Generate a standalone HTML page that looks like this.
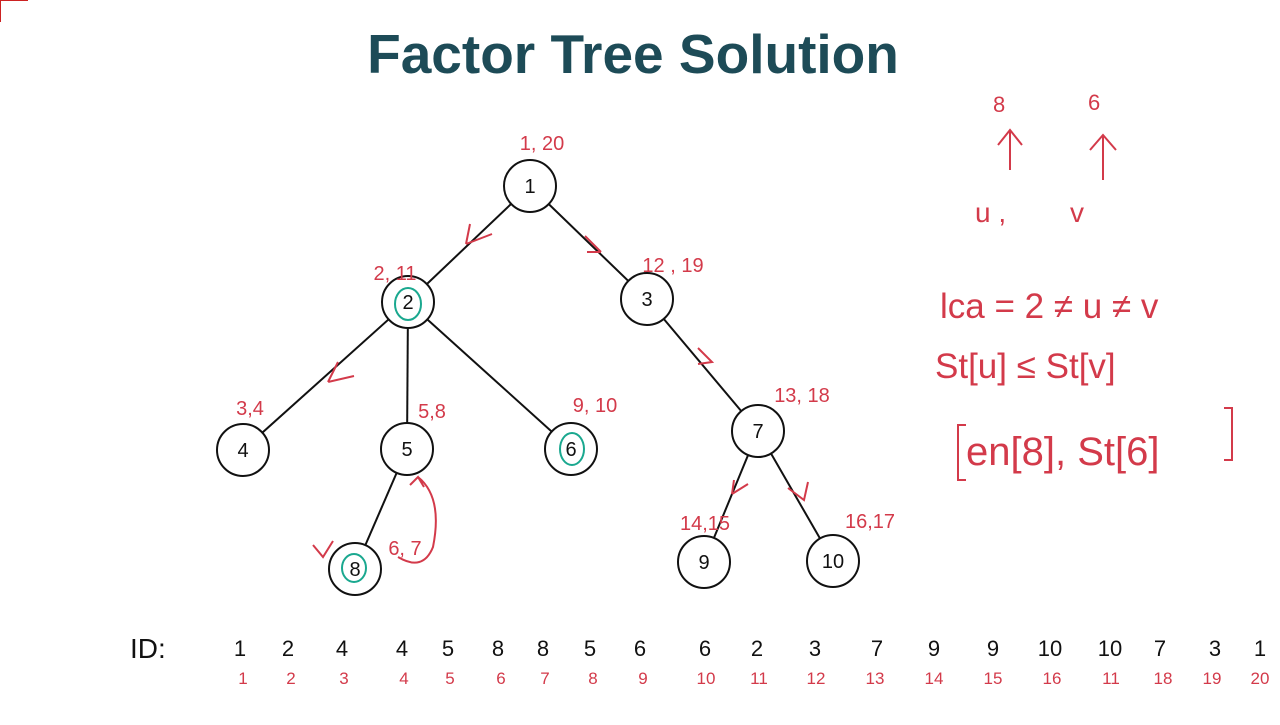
<!DOCTYPE html>
<html><head><style>
body{margin:0;background:#fff;width:1280px;height:720px;overflow:hidden}
</style></head><body>
<svg width="1280" height="720" xmlns="http://www.w3.org/2000/svg" font-family="Liberation Sans, sans-serif">
<path d="M0 22 V0 M0 0 H28" stroke="#c22" stroke-width="2" fill="none"/>
<text x="633" y="73" text-anchor="middle" font-size="55" font-weight="bold" fill="#1d4b57">Factor Tree Solution</text>
<g stroke="#111" stroke-width="2" fill="none">
<line x1="530" y1="186" x2="408" y2="302"/><line x1="530" y1="186" x2="647" y2="299"/>
<line x1="408" y1="302" x2="243" y2="450"/><line x1="408" y1="302" x2="407" y2="449"/>
<line x1="408" y1="302" x2="571" y2="449"/><line x1="647" y1="299" x2="758" y2="431"/>
<line x1="407" y1="449" x2="355" y2="569"/><line x1="758" y1="431" x2="704" y2="562"/>
<line x1="758" y1="431" x2="833" y2="561"/>
</g>
<g stroke="#111" stroke-width="2" fill="#fff">
<circle cx="530" cy="186" r="26"/><circle cx="408" cy="302" r="26"/><circle cx="647" cy="299" r="26"/>
<circle cx="243" cy="450" r="26"/><circle cx="407" cy="449" r="26"/><circle cx="571" cy="449" r="26"/>
<circle cx="758" cy="431" r="26"/><circle cx="355" cy="569" r="26"/><circle cx="704" cy="562" r="26"/>
<circle cx="833" cy="561" r="26"/>
</g>
<g stroke="#1aa88f" stroke-width="2" fill="none">
<ellipse cx="408" cy="304" rx="13" ry="16"/><ellipse cx="572" cy="449" rx="12" ry="16"/><ellipse cx="354" cy="568" rx="12" ry="14"/>
</g>
<g font-size="20" text-anchor="middle" fill="#111">
<text x="530" y="193">1</text><text x="408" y="309">2</text><text x="647" y="306">3</text>
<text x="243" y="457">4</text><text x="407" y="456">5</text><text x="571" y="456">6</text>
<text x="758" y="438">7</text><text x="355" y="576">8</text><text x="704" y="569">9</text><text x="833" y="568">10</text>
</g>
<g font-size="20" fill="#d33a4a" text-anchor="middle">
<text x="542" y="150">1, 20</text><text x="395" y="280">2, 11</text><text x="673" y="272">12 , 19</text>
<text x="250" y="415">3,4</text><text x="432" y="418">5,8</text><text x="595" y="412">9, 10</text>
<text x="802" y="402">13, 18</text><text x="405" y="555">6, 7</text><text x="705" y="530">14,15</text>
<text x="870" y="528">16,17</text>
</g>
<g stroke="#d33a4a" stroke-width="2" fill="none">
<path d="M466 244 l26 -10 M466 244 l4 -20"/><path d="M585 236 l16 16 M601 252 l-14 0"/>
<path d="M328 382 l26 -6 M328 382 l10 -20"/><path d="M698 348 l14 14 l-14 2"/>
<path d="M732 494 l16 -10 M732 494 l2 -14"/><path d="M788 488 l16 12 l4 -18"/>
<path d="M313 545 l10 12 l10 -16"/>
<path d="M410 485 l8 -8 l6 10 M418 477 q25 20 15 70 q-10 25 -35 10"/>
<path d="M1010 170 V130 M998 145 l12 -15 l12 15"/><path d="M1103 180 V135 M1090 150 l13 -15 l13 15"/>
<path d="M966 425 h-8 v55 h8 M1224 408 h8 v52 h-8"/>
</g>
<g font-size="22" fill="#d33a4a">
<text x="993" y="112">8</text><text x="1088" y="110">6</text>
<text x="975" y="222" font-size="28">u ,</text><text x="1070" y="222" font-size="28">v</text>
<text x="940" y="318" font-size="35">lca = 2 ≠ u ≠ v</text>
<text x="935" y="378" font-size="35">St[u] ≤ St[v]</text>
<text x="966" y="465" font-size="40">en[8], St[6]</text>
</g>
<text x="130" y="658" font-size="28" fill="#111">ID:</text>
<g font-size="22" fill="#111" text-anchor="middle">
<text x="240" y="656">1</text><text x="288" y="656">2</text><text x="342" y="656">4</text><text x="402" y="656">4</text><text x="448" y="656">5</text><text x="498" y="656">8</text><text x="543" y="656">8</text><text x="590" y="656">5</text><text x="640" y="656">6</text><text x="705" y="656">6</text><text x="757" y="656">2</text><text x="815" y="656">3</text><text x="877" y="656">7</text><text x="934" y="656">9</text><text x="993" y="656">9</text><text x="1050" y="656">10</text><text x="1110" y="656">10</text><text x="1160" y="656">7</text><text x="1215" y="656">3</text><text x="1260" y="656">1</text>
</g>
<g font-size="17" fill="#d33a4a" text-anchor="middle">
<text x="243" y="684">1</text><text x="291" y="684">2</text><text x="344" y="684">3</text><text x="404" y="684">4</text><text x="450" y="684">5</text><text x="501" y="684">6</text><text x="545" y="684">7</text><text x="593" y="684">8</text><text x="643" y="684">9</text><text x="706" y="684">10</text><text x="759" y="684">11</text><text x="816" y="684">12</text><text x="875" y="684">13</text><text x="934" y="684">14</text><text x="993" y="684">15</text><text x="1052" y="684">16</text><text x="1111" y="684">11</text><text x="1163" y="684">18</text><text x="1212" y="684">19</text><text x="1260" y="684">20</text>
</g>
</svg>
</body></html>
